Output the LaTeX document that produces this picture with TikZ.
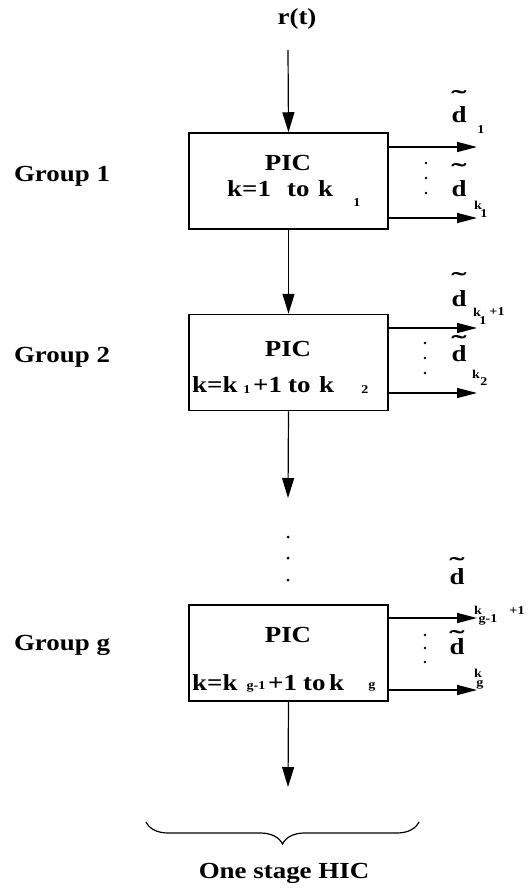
\documentclass[tikz,border=0pt]{standalone}
\usepackage{fontspec}
\setmainfont[FakeStretch=1.17]{Liberation Serif}
\usetikzlibrary{arrows.meta,decorations.pathreplacing}

% d with a tilde set above it; #1 adjusts the gap between the two
\newcommand{\tilded}[1]{\scalebox{1.7}[1]{\char"02DC}\\[#1]d}

\begin{document}
\begin{tikzpicture}[x=1pt,y=-1pt,
  picbox/.style={draw,line width=1.5pt,minimum width=199pt,minimum height=96pt,inner sep=0pt},
  flow/.style={line width=1.2pt,-{Triangle[length=20pt,width=12pt]}},
  outarr/.style={line width=1.5pt,-{Triangle[length=20pt,width=10pt]}},
  txt/.style={font=\bfseries\fontsize{23}{26}\selectfont,inner sep=0pt},
  wd/.style={txt,anchor=base west},
  dl/.style={txt,align=center,anchor=south},
  sb/.style={font=\bfseries\fontsize{12}{13}\selectfont,inner sep=0pt},
  vdot/.style={circle,fill,inner sep=0pt,minimum size=3pt},
  odot/.style={circle,fill,inner sep=0pt,minimum size=2.6pt}]
\useasboundingbox (0,0) rectangle (527,890);

% input signal
\node[txt] (rt) at (297,19) {r(t)};
\coordinate (rin) at (288,50);

% the three group blocks
\node[picbox] (b1) at (288.5,181) {};
\node[picbox] (b2) at (288.5,362.5) {};
\node[picbox] (b3) at (288.5,653) {};

% block 1 contents
\node[txt] at (288,163) {PIC};
\node[wd] at (227,197) {k=1};
\node[wd] at (287,197) {to};
\node[wd] at (318,197) {k};
\node[sb] at (357,203) {1};

% block 2 contents
\node[txt] at (288,349) {PIC};
\node[wd] at (192,392) {k=k};
\node[sb] at (247,390) {1};
\node[wd] at (253,392) {+1};
\node[wd] at (288,392) {to};
\node[wd] at (319,392) {k};
\node[sb] at (365,390) {2};

% block g contents
\node[txt] at (288,635) {PIC};
\node[wd] at (192,690) {k=k};
\node[sb] at (256,687) {g-1};
\node[wd] at (268,690) {+1};
\node[wd] at (303,690) {to};
\node[wd] at (329,690) {k};
\node[sb] at (372,687) {g};

% group names
\node[txt] at (62,176) {Group 1};
\node[txt] at (62,357) {Group 2};
\node[txt] at (62,645) {Group g};

% vertical flow
\draw[flow] (rin) -- (b1.north);
\draw[flow] (b1.south) -- (b2.north);
\coordinate (c2) at (288,498);
\draw[flow] (b2.south) -- (c2);
\node[vdot] at (288,537) {};
\node[vdot] at (288,558) {};
\node[vdot] at (288,580) {};
\coordinate (c3) at (288,787);
\draw[flow] (b3.south) -- (c3);

% outputs of block 1
\coordinate (o1a) at (477,147);
\coordinate (o1b) at (477,218);
\draw[outarr] (b1.east |- o1a) -- (o1a);
\draw[outarr] (b1.east |- o1b) -- (o1b);
\node[odot] at (426,163) {};
\node[odot] at (426,178) {};
\node[odot] at (426,193) {};
\node[dl] at (459,123) {\tilded{-10pt}};
\node[sb] at (481,130) {1};
\node[dl] at (459,197) {\tilded{-9pt}};
\node[sb] at (478,205) {k};
\node[sb] at (484,214) {1};

% outputs of block 2
\coordinate (o2a) at (477,328);
\coordinate (o2b) at (477,393);
\draw[outarr] (b2.east |- o2a) -- (o2a);
\draw[outarr] (b2.east |- o2b) -- (o2b);
\node[odot] at (425,343) {};
\node[odot] at (425,358) {};
\node[odot] at (425,373) {};
\node[dl] at (459,307) {\tilded{-8pt}};
\node[sb] at (477,312) {k};
\node[sb] at (483,321) {1};
\node[sb] at (497,312) {+1};
\node[dl] at (459,362) {\tilded{-16pt}};
\node[sb] at (476,374) {k};
\node[sb] at (484,382) {2};

% outputs of block g
\coordinate (o3a) at (477,618);
\coordinate (o3b) at (477,690);
\draw[outarr] (b3.east |- o3a) -- (o3a);
\draw[outarr] (b3.east |- o3b) -- (o3b);
\node[odot] at (425,635) {};
\node[odot] at (425,648) {};
\node[odot] at (425,662) {};
\node[dl] at (457,585) {\tilded{-15pt}};
\node[sb] at (478,610) {k};
\node[sb] at (488,620) {g-1};
\node[sb] at (517,611) {+1};
\node[dl] at (457,655) {\tilded{-18pt}};
\node[sb] at (478,673) {k};
\node[sb] at (480,685) {g};

% brace under the whole stage
\coordinate (bl) at (146,822);
\coordinate (br) at (419,822);
\draw[line width=1.2pt,decorate,decoration={brace,mirror,amplitude=22pt}] (bl) -- (br);
\node[txt] (hic) at (284,873) {One stage HIC};
\end{tikzpicture}
\end{document}
